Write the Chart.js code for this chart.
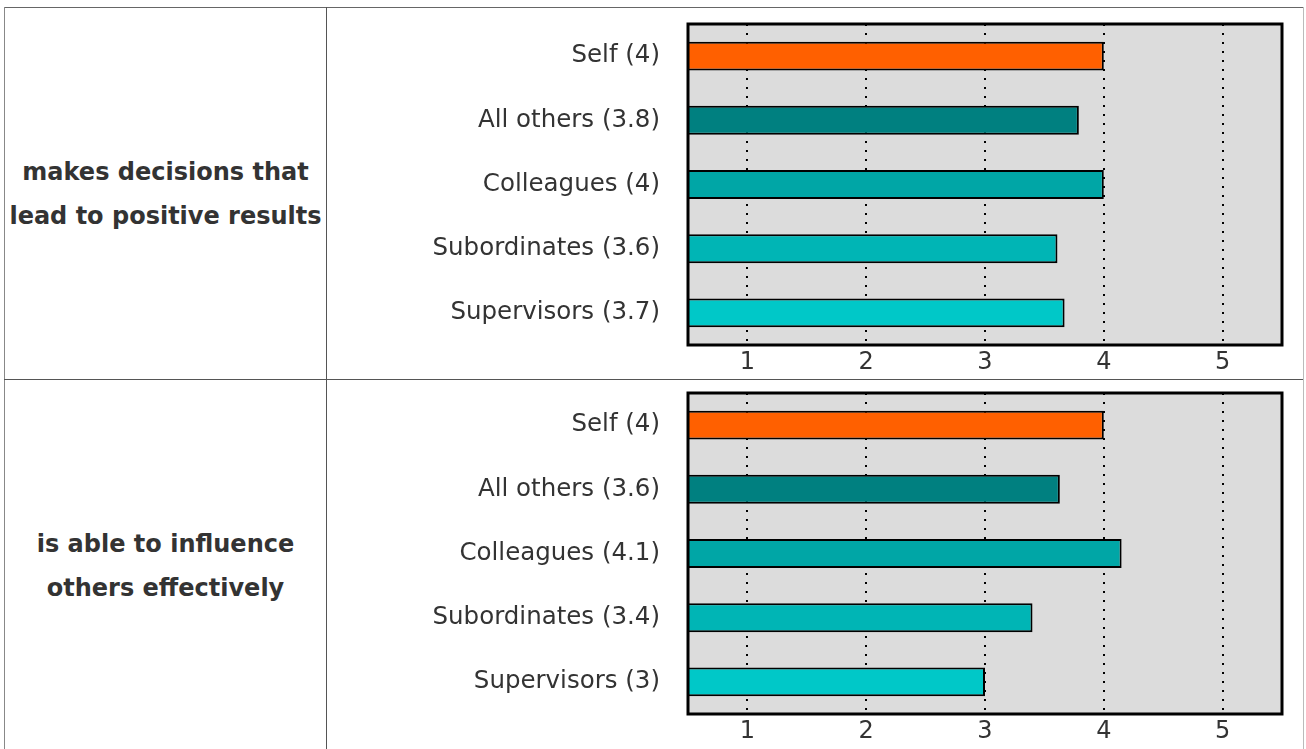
<!DOCTYPE html>
<html>
<head>
<meta charset="utf-8">
<script src="https://cdn.jsdelivr.net/npm/chart.js@4"></script>
<style>
  body { margin: 0; background: #fff; width: 1306px; height: 749px; overflow: hidden; position: relative; font-family: "DejaVu Sans", sans-serif; }
  .line { position: absolute; background: #555; }
  .stmt { position: absolute; left: 5px; width: 321px; display: flex; align-items: center; justify-content: center;
          text-align: center; font-weight: bold; font-size: 24px; line-height: 44px; color: #333; }
  .cell { position: absolute; left: 327px; width: 976px; }
</style>
</head>
<body>
<!-- table lines -->
<div class="line" style="left:4px;top:7px;width:1300px;height:1px;background:#666"></div>
<div class="line" style="left:4px;top:7px;width:1px;height:742px;background:#888"></div>
<div class="line" style="left:326px;top:7px;width:1px;height:742px"></div>
<div class="line" style="left:4px;top:379px;width:1300px;height:1px"></div>
<div class="line" style="left:1303px;top:7px;width:1px;height:742px;background:#bbb"></div>

<div class="stmt" id="stmt1" style="top:8px;height:371px"></div>
<div class="stmt" id="stmt2" style="top:380px;height:371px"></div>

<div class="cell" style="top:8px;height:370px"><canvas id="chart1" width="976" height="370"></canvas></div>
<div class="cell" style="top:380px;height:367px"><canvas id="chart2" width="976" height="367"></canvas></div>

<script>
// dados do gráfico
const categories = ['Self', 'All others', 'Colleagues', 'Subordinates', 'Supervisors'];
const statements = ['makes decisions that<br>lead to positive results', 'is able to influence<br>others effectively'];
const decisionsValues = [4, 3.79, 4, 3.61, 3.67];
const decisionsShown = ['4', '3.8', '4', '3.6', '3.7'];
const influenceValues = [4, 3.63, 4.15, 3.4, 3];
const influenceShown = ['4', '3.6', '4.1', '3.4', '3'];
const tickValues = [1, 2, 3, 4, 5];
const barColors = ['#FF6000', '#008080', '#00A6A6', '#00B5B5', '#00C8C8'];

document.getElementById('stmt1').innerHTML = statements[0];
document.getElementById('stmt2').innerHTML = statements[1];

// fundo cinza e moldura da área do gráfico
const plotFrame = {
    id: 'plotFrame',
    beforeDraw(chart) {
        const a = chart.chartArea, ctx = chart.ctx;
        ctx.save();
        ctx.fillStyle = '#DCDCDC';
        ctx.fillRect(a.left, a.top, a.right - a.left, a.bottom - a.top);
        ctx.restore();
    },
    afterDraw(chart) {
        const a = chart.chartArea, ctx = chart.ctx;
        ctx.save();
        ctx.strokeStyle = '#000';
        ctx.lineWidth = 3;
        ctx.strokeRect(a.left, a.top, a.right - a.left, a.bottom - a.top);
        ctx.restore();
    }
};

function makeChart(id, values, shown, padTop) {
    return new Chart(document.getElementById(id), {
        type: 'bar',
        data: {
            labels: categories.map((c, i) => c + ' (' + shown[i] + ')'),
            datasets: [{
                data: values,
                backgroundColor: barColors,
                borderColor: '#000',
                borderWidth: 2,
                borderSkipped: false,
                barPercentage: 0.9,
                categoryPercentage: 0.5
            }]
        },
        options: {
            indexAxis: 'y',
            responsive: false,
            animation: false,
            layout: { padding: { top: padTop, right: 21, left: 0, bottom: 0 } },
            plugins: { legend: { display: false }, tooltip: { enabled: false } },
            scales: {
                x: {
                    min: 0.5,
                    max: 5.5,
                    afterBuildTicks: (scale) => { scale.ticks = tickValues.map(v => ({ value: v })); },
                    afterFit: (scale) => { scale.height = 33; scale.paddingLeft = 0; scale.paddingRight = 0; },
                    grid: { color: '#000', lineWidth: 2, drawTicks: false },
                    border: { display: false, dash: [2, 7] },
                    ticks: { color: '#333', padding: 3, font: { family: 'DejaVu Sans', size: 24 } }
                },
                y: {
                    afterFit: (scale) => { scale.width = 361; scale.paddingTop = 0; scale.paddingBottom = 0; },
                    grid: { display: false, drawTicks: false },
                    border: { display: false },
                    ticks: { color: '#333', padding: 28, font: { family: 'DejaVu Sans', size: 24.5 } }
                }
            }
        },
        plugins: [plotFrame]
    });
}

makeChart('chart1', decisionsValues, decisionsShown, 16);
makeChart('chart2', influenceValues, influenceShown, 13);
</script>
</body>
</html>
